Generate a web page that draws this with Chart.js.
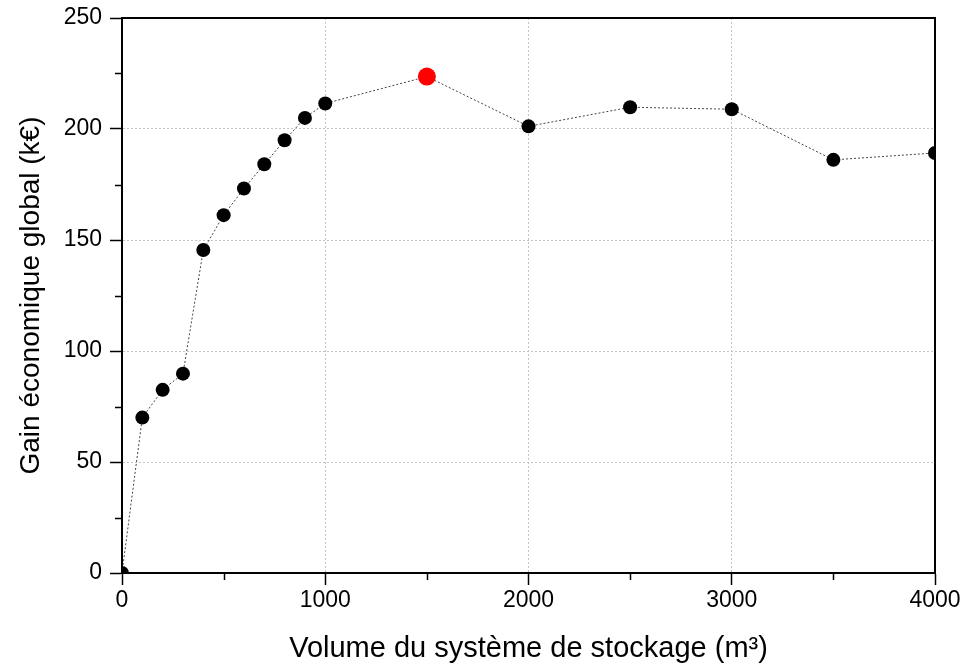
<!DOCTYPE html>
<html>
<head>
<meta charset="utf-8">
<script src="https://cdn.jsdelivr.net/npm/chart.js@4"></script>
<style>
  html, body { margin: 0; padding: 0; background: #fff; }
  #wrap { width: 977px; height: 666px; }
</style>
</head>
<body>
<div id="wrap"><canvas id="gainChart" width="977" height="666"></canvas></div>
<script>
// Volume du stockage (m3) et gain économique (k€)
const volumes = [0, 100, 200, 300, 400, 500, 600, 700, 800, 900, 1000, 1500, 2000, 2500, 3000, 3500, 4000];
const gains = [0, 70, 82.5, 89.8, 145.5, 161.2, 173.2, 184.1, 194.9, 205, 211.5, 223.6, 201.2, 209.8, 208.9, 186.1, 189.2];
// point optimal (en rouge)
const optimumVolume = 1500;

const xTicksMajor = [0, 1000, 2000, 3000, 4000];
const xTicksMinor = [500, 1500, 2500, 3500];
const yTicksMajor = [0, 50, 100, 150, 200, 250];
const yTicksMinor = [25, 75, 125, 175, 225];

const points = volumes.map((v, i) => ({ x: v, y: gains[i] }));
const FONT = "'Liberation Sans', Arial, sans-serif";

// cadre (haut + droite) et petites graduations
const framePlugin = {
  id: "frame",
  afterDraw(chart) {
    const { ctx, chartArea: a, scales } = chart;
    ctx.save();
    ctx.strokeStyle = "#000";
    ctx.lineWidth = 2;
    ctx.beginPath();
    ctx.moveTo(a.left, a.top);
    ctx.lineTo(a.right, a.top);
    ctx.lineTo(a.right, a.bottom);
    ctx.stroke();

    ctx.lineWidth = 1.5;
    ctx.beginPath();
    xTicksMinor.forEach(v => {
      const px = Math.round(scales.x.getPixelForValue(v)) + 0.5;
      ctx.moveTo(px, a.bottom);
      ctx.lineTo(px, a.bottom + 7);
    });
    yTicksMinor.forEach(v => {
      const py = Math.round(scales.y.getPixelForValue(v)) + 0.5;
      ctx.moveTo(a.left - 7, py);
      ctx.lineTo(a.left, py);
    });
    ctx.stroke();
    ctx.restore();
  }
};

new Chart(document.getElementById("gainChart"), {
  type: "line",
  data: {
    datasets: [{
      data: points,
      clip: 0,
      borderColor: "#444",
      borderWidth: 1,
      borderDash: [2, 2],
      pointRadius: ctx => (volumes[ctx.dataIndex] === optimumVolume ? 9 : 7),
      pointBackgroundColor: ctx => (volumes[ctx.dataIndex] === optimumVolume ? "#ff0000" : "#000"),
      pointBorderWidth: 0,
      pointHoverRadius: 7,
      tension: 0
    }]
  },
  options: {
    responsive: false,
    animation: false,
    layout: { padding: { left: 0, top: 18, right: 42, bottom: 0 } },
    plugins: {
      legend: { display: false },
      tooltip: { enabled: false }
    },
    scales: {
      x: {
        type: "linear",
        min: 0,
        max: 4000,
        afterFit: s => {
          s.height = 93;
          s.paddingLeft = 0;
          s.paddingRight = 0;
        },
        afterBuildTicks: s => { s.ticks = xTicksMajor.map(v => ({ value: v })); },
        ticks: {
          color: "#000",
          font: { family: FONT, size: 23 },
          padding: 2,
          maxRotation: 0,
          callback: v => String(v)
        },
        grid: {
          color: c => (c.tick && (c.tick.value === 0 || c.tick.value === 4000) ? "rgba(0,0,0,0)" : "#c4c4c4"),
          lineWidth: 1,
          tickColor: "#000",
          tickLength: 12,
          tickWidth: 1.5,
          tickBorderDash: []
        },
        border: { display: true, color: "#000", width: 2, dash: [2, 2] },
        title: {
          display: true,
          text: "Volume du système de stockage (m³)",
          color: "#000",
          font: { family: FONT, size: 29 },
          padding: { top: 0, bottom: 0 }
        }
      },
      y: {
        min: 0,
        max: 250,
        afterFit: s => {
          s.width = 122;
          s.paddingTop = 0;
          s.paddingBottom = 0;
        },
        afterBuildTicks: s => { s.ticks = yTicksMajor.map(v => ({ value: v })); },
        ticks: {
          color: "#000",
          font: { family: FONT, size: 23 },
          padding: 8,
          callback: v => String(v)
        },
        grid: {
          color: c => (c.tick && (c.tick.value === 0 || c.tick.value === 250) ? "rgba(0,0,0,0)" : "#c4c4c4"),
          lineWidth: 1,
          tickColor: "#000",
          tickLength: 12,
          tickWidth: 1.5,
          tickBorderDash: []
        },
        border: { display: true, color: "#000", width: 2, dash: [2, 2] },
        title: {
          display: true,
          text: "Gain économique global (k€)",
          color: "#000",
          font: { family: FONT, size: 28 },
          padding: { top: 14, bottom: 0 }
        }
      }
    }
  },
  plugins: [framePlugin]
});
</script>
</body>
</html>
